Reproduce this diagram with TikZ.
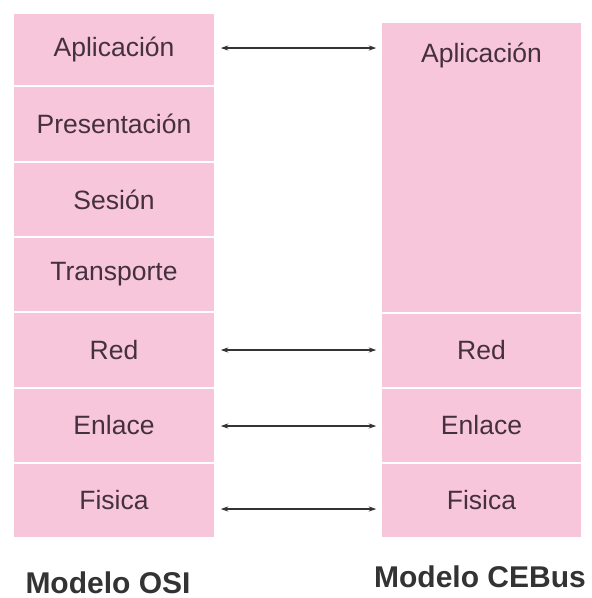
\documentclass[tikz,border=0pt]{standalone}
\usepackage{fontspec}
\setmainfont{Liberation Sans}
\usetikzlibrary{arrows.meta}
\definecolor{layerpink}{HTML}{F7C6DA}
\definecolor{layertext}{HTML}{45303F}
\definecolor{captext}{HTML}{333333}
\begin{document}
\begin{tikzpicture}[x=1pt,y=-1pt,
  layerbox/.style={rectangle,fill=layerpink,draw=white,line width=1.5pt,inner sep=0pt,
    font=\fontsize{26.5}{30}\selectfont,text=layertext},
  lbox/.style={layerbox,minimum width=202pt,minimum height=#1},
  rbox/.style={layerbox,minimum width=201pt,minimum height=#1},
  conn/.style={draw=captext,line width=1.3pt,{Stealth[length=7.5pt,width=5pt]}-{Stealth[length=7.5pt,width=5pt]}},
  caption/.style={font=\bfseries\fontsize{30}{34}\selectfont,text=captext,anchor=base}]
\useasboundingbox (0,0) rectangle (592,598);
\fill[white] (0,0) rectangle (592,598);
% OSI column
\node[lbox=73pt] (lapp) at (114,49.5) {Aplicación};
\node[lbox=76pt] (lpre) at (114,124) {Presentación};
\node[lbox=75pt] (lses) at (114,199.5) {Sesión};
\node[lbox=75pt] (ltra) at (114,274.5) {Transporte};
\node[lbox=76pt] (lred) at (114,350) {Red};
\node[lbox=75pt] (lenl) at (114,425.5) {Enlace};
\node[lbox=75pt] (lfis) at (114,500.5) {Fisica};
% CEBus column
\node[rbox=291pt] (rapp) at (481.5,167.5) {};
\node[font=\fontsize{26.5}{30}\selectfont,text=layertext] (rapptext) at (481.5,55) {Aplicación};
\node[rbox=75pt] (rred) at (481.5,350.5) {Red};
\node[rbox=75pt] (renl) at (481.5,425.5) {Enlace};
\node[rbox=75pt] (rfis) at (481.5,500.5) {Fisica};
% connectors
\coordinate (appL) at ([xshift=5pt,yshift=1.5pt]lapp.east);
\coordinate (appR) at (rapp.west |- appL);
\draw[conn] (appL) -- ([xshift=-4pt]appR);
\coordinate (redL) at ([xshift=5pt]lred.east);
\coordinate (redR) at (rred.west |- redL);
\draw[conn] (redL) -- ([xshift=-4pt]redR);
\draw[conn] ([xshift=5pt,yshift=-0.5pt]lenl.east) -- ([xshift=-4pt,yshift=-0.5pt]renl.west);
\draw[conn] ([xshift=5pt,yshift=-8.5pt]lfis.east) -- ([xshift=-4pt,yshift=-8.5pt]rfis.west);
% captions
\node[caption] (osi) at (108,593) {Modelo OSI};
\node[caption] (cebus) at (480,587) {Modelo CEBus};
\end{tikzpicture}
\end{document}
